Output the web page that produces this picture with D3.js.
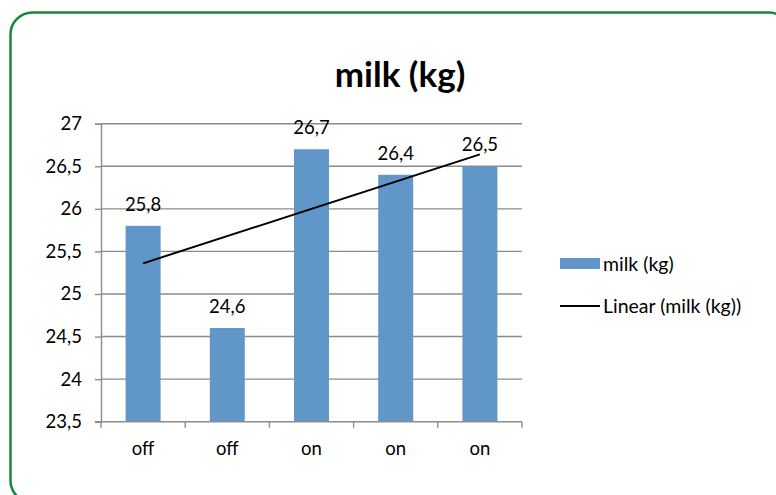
<!DOCTYPE html>
<html>
<head>
<meta charset="utf-8">
<script src="https://cdn.jsdelivr.net/npm/d3@7"></script>
<style>
  html, body { margin: 0; padding: 0; background: #ffffff; }
  svg { display: block; }
  text { font-family: Lato, "Open Sans", "Liberation Sans", sans-serif; fill: #000; }
</style>
</head>
<body>
<svg id="chart" width="776" height="495"></svg>
<script>
// Chart data
const categories = ["off", "off", "on", "on", "on"];
const milkValues = [25.8, 24.6, 26.7, 26.4, 26.5];
const yTicks = [23.5, 24, 24.5, 25, 25.5, 26, 26.5, 27];
const chartTitle = "milk (kg)";
const seriesName = "milk (kg)";
const trendName = "Linear (milk (kg))";

const svg = d3.select("#chart");
const labelSize = 18.5;

// Outer frame with rounded corners
svg.append("rect")
  .attr("x", 10.5).attr("y", 12.5)
  .attr("width", 780).attr("height", 490)
  .attr("rx", 22).attr("ry", 22)
  .attr("fill", "#fff")
  .attr("stroke", "#17873A")
  .attr("stroke-width", 2.5);

const plot = { left: 101, right: 522, top: 123.7, bottom: 421.7 };

const x = d3.scaleBand()
  .domain(d3.range(categories.length))
  .range([plot.left, plot.right])
  .paddingInner(0).paddingOuter(0);

const y = d3.scaleLinear()
  .domain([23.5, 27])
  .range([plot.bottom, plot.top]);

const fmt = v => String(v).replace(".", ",");

// Horizontal gridlines
svg.append("g")
  .selectAll("line")
  .data(yTicks.slice(1))
  .join("line")
  .attr("x1", plot.left).attr("x2", plot.right)
  .attr("y1", d => y(d)).attr("y2", d => y(d))
  .attr("stroke", "#8C8C8C").attr("stroke-width", 1.4);

// Y axis
const yAxis = svg.append("g")
  .attr("transform", `translate(${plot.left},0)`)
  .call(d3.axisLeft(y).tickValues(yTicks).tickSize(6).tickPadding(13).tickFormat(fmt));
yAxis.select(".domain").attr("stroke", "#8C8C8C").attr("stroke-width", 1.4);
yAxis.selectAll(".tick line").attr("stroke", "#8C8C8C").attr("stroke-width", 1.4);
yAxis.selectAll(".tick text")
  .attr("font-size", labelSize).attr("font-family", "Lato, 'Open Sans', sans-serif")
  .attr("fill", "#000");

// Bars
const barW = 35;
svg.append("g")
  .selectAll("rect")
  .data(milkValues)
  .join("rect")
  .attr("x", (d, i) => x(i) + x.bandwidth() / 2 - barW / 2)
  .attr("width", barW)
  .attr("y", d => y(d))
  .attr("height", d => plot.bottom - y(d))
  .attr("fill", "#6096C8");

// X axis
const xAxis = svg.append("g")
  .attr("transform", `translate(0,${plot.bottom})`)
  .call(d3.axisBottom(x).tickSize(0).tickFormat(i => categories[i]));
xAxis.select(".domain").attr("stroke", "#8C8C8C").attr("stroke-width", 1.4)
  .attr("d", `M${plot.left - 6},0H${plot.right}`);
xAxis.selectAll(".tick text")
  .attr("y", 20).attr("dy", "0.71em")
  .attr("font-size", labelSize).attr("font-family", "Lato, 'Open Sans', sans-serif")
  .attr("fill", "#000");
// category boundary tick marks
svg.append("g")
  .selectAll("line")
  .data(d3.range(categories.length + 1))
  .join("line")
  .attr("x1", i => plot.left + i * x.bandwidth())
  .attr("x2", i => plot.left + i * x.bandwidth())
  .attr("y1", plot.bottom).attr("y2", plot.bottom + 6)
  .attr("stroke", "#8C8C8C").attr("stroke-width", 1.4);

// Linear trendline (least squares over category index)
const n = milkValues.length;
const xs = d3.range(1, n + 1);
const mx = d3.mean(xs), my = d3.mean(milkValues);
const slope = d3.sum(xs, (xi, i) => (xi - mx) * (milkValues[i] - my)) / d3.sum(xs, xi => (xi - mx) ** 2);
const intercept = my - slope * mx;
const cx = i => x(i) + x.bandwidth() / 2;
svg.append("line")
  .attr("x1", cx(0)).attr("y1", y(intercept + slope * 1))
  .attr("x2", cx(n - 1)).attr("y2", y(intercept + slope * n))
  .attr("stroke", "#000").attr("stroke-width", 2);

// Value labels
svg.append("g")
  .selectAll("text")
  .data(milkValues)
  .join("text")
  .attr("x", (d, i) => cx(i))
  .attr("y", d => y(d) - 15)
  .attr("text-anchor", "middle")
  .attr("font-size", labelSize)
  .text(d => fmt(d));

// Title
svg.append("text")
  .attr("x", 400).attr("y", 87)
  .attr("text-anchor", "middle")
  .attr("font-size", 35).attr("font-weight", "bold")
  .text(chartTitle);

// Legend
const lg = svg.append("g");
lg.append("rect").attr("x", 560).attr("y", 258).attr("width", 40).attr("height", 11).attr("fill", "#6096C8");
lg.append("text").attr("x", 603).attr("y", 271).attr("font-size", 19.5).text(seriesName);
lg.append("line").attr("x1", 560).attr("x2", 600).attr("y1", 306).attr("y2", 306)
  .attr("stroke", "#000").attr("stroke-width", 2);
lg.append("text").attr("x", 603).attr("y", 313).attr("font-size", 19.5).text(trendName);
</script>
</body>
</html>
